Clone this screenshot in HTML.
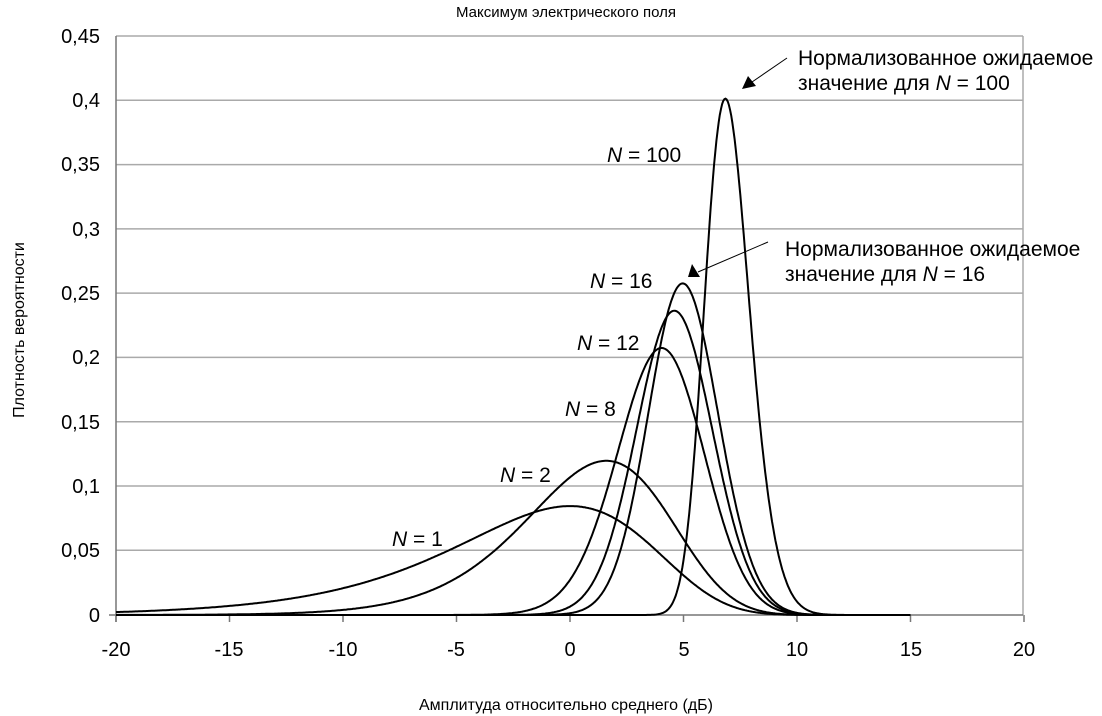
<!DOCTYPE html>
<html><head><meta charset="utf-8"><style>
body{margin:0;background:#fff}
svg{display:block;font-family:"Liberation Sans",sans-serif}
</style></head><body>
<svg id="s" width="1102" height="716" viewBox="0 0 1102 716">
<g stroke="#aaa" stroke-width="1.5" fill="none">
<line x1="116" y1="36" x2="1023" y2="36"/>
<line x1="116" y1="100.3" x2="1023" y2="100.3"/>
<line x1="116" y1="164.6" x2="1023" y2="164.6"/>
<line x1="116" y1="228.9" x2="1023" y2="228.9"/>
<line x1="116" y1="293.1" x2="1023" y2="293.1"/>
<line x1="116" y1="357.4" x2="1023" y2="357.4"/>
<line x1="116" y1="421.7" x2="1023" y2="421.7"/>
<line x1="116" y1="486" x2="1023" y2="486"/>
<line x1="116" y1="550.3" x2="1023" y2="550.3"/>
<line x1="1023" y1="36" x2="1023" y2="615"/>
</g>
<g stroke="#777" stroke-width="1.5">
<line x1="116" y1="36" x2="116" y2="622"/>
<line x1="109" y1="615" x2="1023" y2="615"/>
</g>
<g id="ticks" stroke="#777" stroke-width="1.5"></g>
<g font-size="20" fill="#000" text-anchor="end">
<text x="100" y="622">0</text><text x="100" y="557">0,05</text><text x="100" y="493">0,1</text>
<text x="100" y="429">0,15</text><text x="100" y="364">0,2</text><text x="100" y="300">0,25</text>
<text x="100" y="236">0,3</text><text x="100" y="171">0,35</text><text x="100" y="107">0,4</text><text x="100" y="43">0,45</text>
</g>
<g font-size="20" text-anchor="middle">
<text x="116" y="656">-20</text><text x="229" y="656">-15</text><text x="343" y="656">-10</text>
<text x="456" y="656">-5</text><text x="570" y="656">0</text><text x="684" y="656">5</text>
<text x="797" y="656">10</text><text x="911" y="656">15</text><text x="1024" y="656">20</text>
</g>
<text x="566" y="17" font-size="15" text-anchor="middle">Максимум электрического поля</text>
<text x="566" y="710" font-size="16" text-anchor="middle">Амплитуда относительно среднего (дБ)</text>
<text transform="translate(24,330) rotate(-90)" font-size="16" text-anchor="middle">Плотность вероятности</text>
<g id="curves" fill="none" stroke="#000" stroke-width="2"></g>
<g font-size="21">
<text x="607" y="162"><tspan font-style="italic">N</tspan> = 100</text>
<text x="590" y="288"><tspan font-style="italic">N</tspan> = 16</text>
<text x="577" y="350"><tspan font-style="italic">N</tspan> = 12</text>
<text x="565" y="416"><tspan font-style="italic">N</tspan> = 8</text>
<text x="500" y="482"><tspan font-style="italic">N</tspan> = 2</text>
<text x="392" y="546"><tspan font-style="italic">N</tspan> = 1</text>
</g>
<g font-size="21">
<text x="798" y="65">Нормализованное ожидаемое</text>
<text x="798" y="90">значение для <tspan font-style="italic">N</tspan> = 100</text>
<text x="785" y="256">Нормализованное ожидаемое</text>
<text x="785" y="281">значение для <tspan font-style="italic">N</tspan> = 16</text>
</g>
<line x1="787" y1="58" x2="752" y2="82" stroke="#000" stroke-width="1"/>
<polygon points="742,89 748,76 756,86" fill="#000"/>
<line x1="768" y1="242" x2="698" y2="272" stroke="#000" stroke-width="1"/>
<polygon points="688,277 692,264 700,277" fill="#000"/>
</svg>
<script>
var X=function(d){return 116+(d+20)*22.7},Y=function(v){return 615-v*1286};
var t=document.getElementById('ticks'),h='';
for(var d=-20;d<=20;d+=5)h+='<line x1="'+X(d)+'" y1="615" x2="'+X(d)+'" y2="622"/>';
t.innerHTML=h;
var c='';[1,2,8,12,16,100].forEach(function(N){var p='';
for(var x=-20;x<=15.001;x+=0.05){var q=Math.pow(10,x/10);
var f=N*Math.pow(1-Math.exp(-q),N-1)*Math.exp(-q)*q*Math.LN10/10;
p+=(p?'L':'M')+X(x).toFixed(1)+','+Y(f).toFixed(1);}
c+='<path d="'+p+'"/>';});
document.getElementById('curves').innerHTML=c;
</script>
</body></html>
